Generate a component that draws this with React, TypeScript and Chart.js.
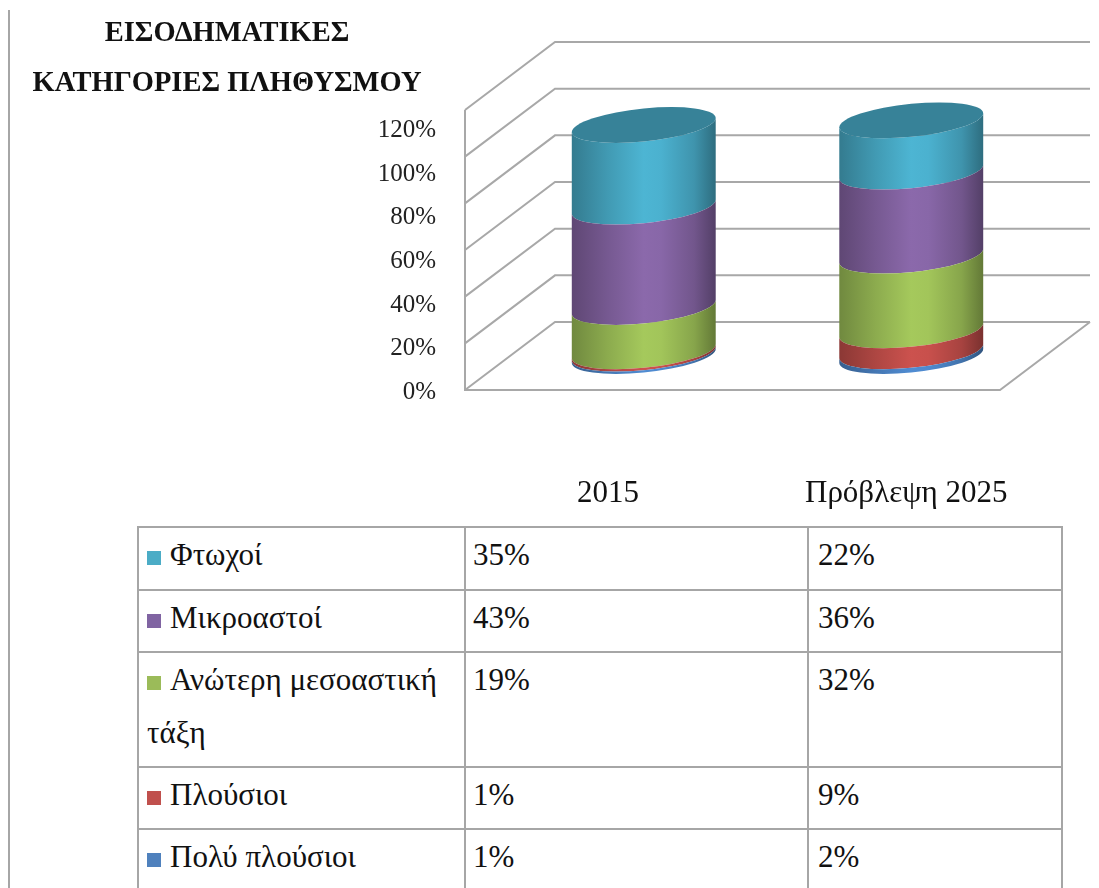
import React, { useEffect, useRef } from "react";
import { Chart, registerables } from "chart.js";

Chart.register(...registerables);

const categories = ["2015", "Πρόβλεψη 2025"];
const seriesNames = ["Πολύ πλούσιοι", "Πλούσιοι", "Ανώτερη μεσοαστική τάξη", "Μικροαστοί", "Φτωχοί"];
const veryRich = [1, 2];
const rich = [1, 9];
const upperMiddle = [19, 32];
const pettyBourgeois = [43, 36];
const poor = [35, 22];
const seriesValues = [veryRich, rich, upperMiddle, pettyBourgeois, poor];
const tickValues = [0, 20, 40, 60, 80, 100, 120];
const sideColors = [
  [80, 140, 210],
  [204, 82, 78],
  [165, 201, 92],
  [139, 105, 171],
  [77, 181, 211],
];
const swatchColors = ["#4f81bd", "#c0504d", "#9bbb59", "#8064a2", "#4bacc6"];
const titleLines = ["ΕΙΣΟΔΗΜΑΤΙΚΕΣ", "ΚΑΤΗΓΟΡΙΕΣ ΠΛΗΘΥΣΜΟΥ"];

const SERIF = '"Liberation Serif", "Times New Roman", serif';
const GRID = "#a8a8a8";
const DEPTH_X = 90;
const DEPTH_Y = 68;
const ELLIPSE_B = 16.5;
const ELLIPSE_SKEW = 7;

const shade = (c: number[], f: number) =>
  `rgb(${Math.round(c[0] * f)},${Math.round(c[1] * f)},${Math.round(c[2] * f)})`;

const depthPlugin = {
  id: "depth3d",
  beforeDatasetsDraw(chart: any) {
    const { ctx, chartArea } = chart;
    const scale = chart.scales.yBars;
    const { left, right } = chartArea;
    ctx.save();
    ctx.strokeStyle = GRID;
    ctx.lineWidth = 2;
    ctx.lineJoin = "miter";
    for (const tick of scale.ticks) {
      const y = scale.getPixelForValue(tick.value);
      ctx.beginPath();
      ctx.moveTo(left, y);
      ctx.lineTo(left + DEPTH_X, y - DEPTH_Y);
      ctx.lineTo(right + DEPTH_X, y - DEPTH_Y);
      ctx.stroke();
    }
    const y0 = scale.getPixelForValue(0);
    ctx.beginPath();
    ctx.moveTo(left, scale.getPixelForValue(scale.max));
    ctx.lineTo(left, y0);
    ctx.lineTo(right, y0);
    ctx.lineTo(right + DEPTH_X, y0 - DEPTH_Y);
    ctx.stroke();
    ctx.restore();
  },
  beforeDatasetDraw(chart: any, args: any) {
    const { ctx } = chart;
    const index = args.index;
    const color = sideColors[index];
    const isTop = index === seriesValues.length - 1;
    for (const bar of args.meta.data) {
      const { x, y, base, width } = bar.getProps(["x", "y", "base", "width"], true);
      const a = width / 2;
      ctx.save();
      ctx.transform(1, -ELLIPSE_SKEW / a, 0, 1, x + DEPTH_X / 2, -DEPTH_Y / 2);
      const g = ctx.createLinearGradient(-a, 0, a, 0);
      g.addColorStop(0, shade(color, 0.68));
      g.addColorStop(0.25, shade(color, 0.85));
      g.addColorStop(0.5, shade(color, 1));
      g.addColorStop(0.62, shade(color, 0.98));
      g.addColorStop(0.85, shade(color, 0.82));
      g.addColorStop(1, shade(color, 0.6));
      ctx.fillStyle = g;
      ctx.beginPath();
      ctx.moveTo(-a, y);
      ctx.lineTo(-a, base);
      ctx.ellipse(0, base, a, ELLIPSE_B, 0, Math.PI, 0, true);
      ctx.lineTo(a, y);
      ctx.ellipse(0, y, a, ELLIPSE_B, 0, 0, Math.PI, false);
      ctx.closePath();
      ctx.fill();
      if (isTop) {
        ctx.fillStyle = shade(color, 0.72);
        ctx.beginPath();
        ctx.ellipse(0, y, a, ELLIPSE_B, 0, 0, Math.PI * 2);
        ctx.fill();
      }
      ctx.restore();
    }
    return false;
  },
};

const abs = (left: number, top: number, extra: React.CSSProperties = {}): React.CSSProperties => ({
  position: "absolute",
  left,
  top,
  whiteSpace: "nowrap",
  ...extra,
});

const cellBase: React.CSSProperties = {
  border: "2px solid #a6a6a6",
  padding: "0 8px 7px 8px",
  lineHeight: "53px",
  verticalAlign: "top",
  fontSize: 31,
  color: "#111",
};

export default function App() {
  const ref = useRef<HTMLCanvasElement | null>(null);

  useEffect(() => {
    if (!ref.current) return;
    const chart = new Chart(ref.current, {
      type: "bar",
      data: {
        labels: categories,
        datasets: seriesNames.map((name, i) => ({
          label: name,
          data: seriesValues[i],
          yAxisID: "yBars",
          backgroundColor: swatchColors[i],
          categoryPercentage: 0.538,
          barPercentage: 1,
        })),
      },
      options: {
        animation: false,
        responsive: false,
        events: [],
        layout: { padding: { top: 110, bottom: 130, left: 0, right: 99 } },
        plugins: { legend: { display: false }, tooltip: { enabled: false }, title: { display: false } },
        scales: {
          x: { display: false, stacked: true },
          yBars: {
            display: false,
            stacked: true,
            min: 0,
            max: 120,
            ticks: { stepSize: 20 },
          },
          yLabels: {
            position: "left",
            min: 1.145,
            max: 129.4,
            grid: { display: false, drawTicks: false },
            border: { display: false },
            afterFit: (s: any) => {
              s.width = 465;
            },
            afterBuildTicks: (s: any) => {
              s.ticks = tickValues.map((value) => ({ value }));
            },
            ticks: {
              autoSkip: false,
              padding: 29,
              color: "#222",
              font: { family: SERIF, size: 25 },
              callback: (v: any) => `${v}%`,
            },
          },
        },
      },
      plugins: [depthPlugin],
    } as any);
    return () => chart.destroy();
  }, []);

  const rows = [...seriesNames.keys()].reverse();
  const titleStyle: React.CSSProperties = {
    width: 412,
    textAlign: "center",
    fontWeight: 700,
    fontSize: 28.5,
    lineHeight: "36px",
    color: "#111",
  };

  return (
    <div
      style={{
        position: "absolute",
        left: 0,
        top: 0,
        width: 1099,
        height: 888,
        overflow: "hidden",
        background: "#fff",
        fontFamily: SERIF,
      }}
    >
      <canvas ref={ref} width={1099} height={520} style={{ position: "absolute", left: 0, top: 0, display: "block" }} />
      <div style={{ position: "absolute", left: 8, top: 10, width: 2, height: 878, background: "#a6a6a6" }} />
      <div style={abs(21, 14, titleStyle)}>{titleLines[0]}</div>
      <div style={abs(21, 64, titleStyle)}>{titleLines[1]}</div>
      <div style={abs(577, 472, { fontSize: 31, lineHeight: "40px", color: "#111" })}>{categories[0]}</div>
      <div style={abs(805, 472, { fontSize: 31, lineHeight: "40px", color: "#111" })}>{categories[1]}</div>
      <table
        style={{
          position: "absolute",
          left: 137,
          top: 526,
          width: 924,
          borderCollapse: "collapse",
          tableLayout: "fixed",
        }}
      >
        <colgroup>
          <col style={{ width: 327 }} />
          <col style={{ width: 343 }} />
          <col style={{ width: 254 }} />
        </colgroup>
        <tbody>
          {rows.map((i, r) => {
            const cell = r === 0 ? { ...cellBase, paddingBottom: 8 } : cellBase;
            return (
              <tr key={i}>
                <td style={cell}>
                  <span
                    style={{
                      display: "inline-block",
                      width: 14,
                      height: 14,
                      marginRight: 9,
                      background: swatchColors[i],
                    }}
                  />
                  {seriesNames[i]}
                </td>
                <td style={{ ...cell, paddingLeft: 7 }}>{seriesValues[i][0]}%</td>
                <td style={{ ...cell, paddingLeft: 9 }}>{seriesValues[i][1]}%</td>
              </tr>
            );
          })}
        </tbody>
      </table>
    </div>
  );
}
